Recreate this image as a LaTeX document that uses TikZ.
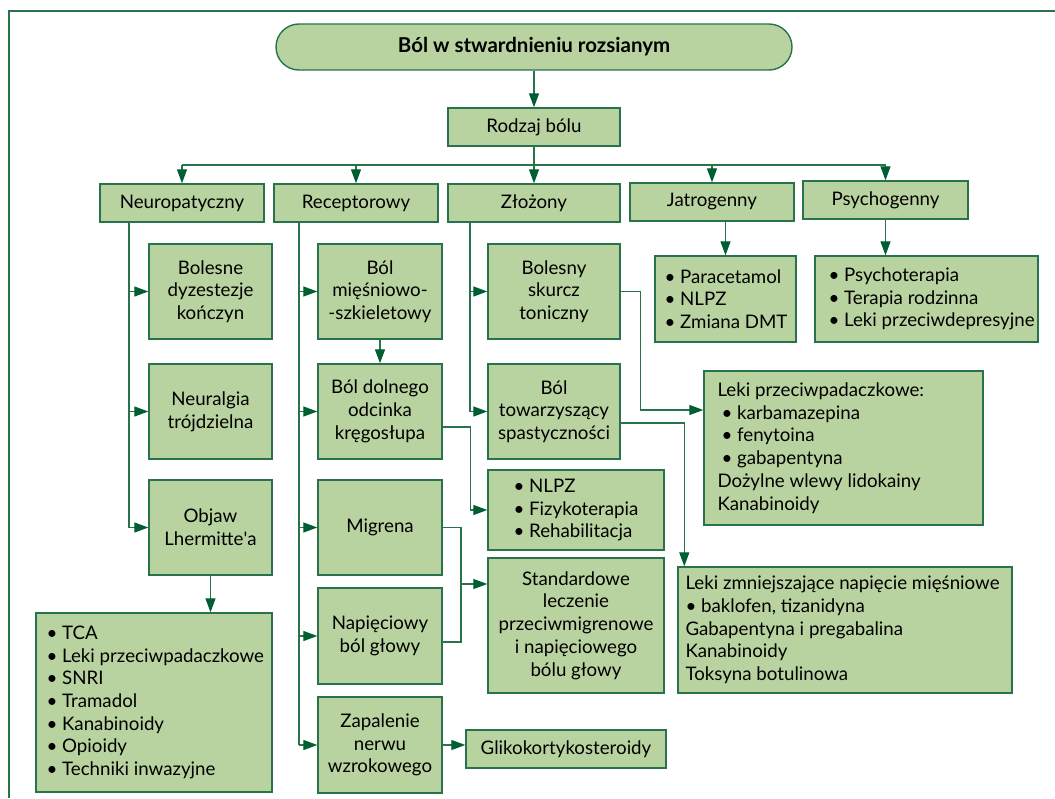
\documentclass[tikz,border=0pt]{standalone}
\usepackage{fontspec}
\setmainfont{Lato}
\usetikzlibrary{arrows.meta,calc}
\definecolor{bf}{RGB}{185,211,160}
\definecolor{bc}{RGB}{40,115,75}
\definecolor{ac}{RGB}{0,95,50}
\begin{document}
\begin{tikzpicture}[x=1pt,y=-1pt,
  box/.style={draw=bc, fill=bf, line width=1.4pt, inner sep=0pt, align=center,
    font=\fontsize{18.7}{22.7}\selectfont},
  txt/.style={inner sep=0pt, align=left, anchor=west, font=\fontsize{18.7}{22.7}\selectfont},
  conn/.style={draw=bc, line width=1.3pt},
  arr/.style={conn, -{Triangle[length=14pt,width=10pt,color=ac]}}]
\useasboundingbox (0,0) rectangle (1055,798);
\draw[conn] (9,798) -- (9,11) -- (1055,11);

% top
\node[box, minimum width=516pt, minimum height=46pt, rounded corners=23pt,
  font=\fontsize{20.5}{24}\selectfont\bfseries] (title) at (534,47) {Ból w stwardnieniu rozsianym};
\node[box, minimum width=172pt, minimum height=38pt] (rodzaj) at (534,127) {Rodzaj bólu};

% level 2
\node[box, minimum width=164pt, minimum height=38pt] (neuro) at (182,203) {Neuropatyczny};
\node[box, minimum width=164pt, minimum height=38pt] (recep) at (356,203) {Receptorowy};
\node[box, minimum width=172pt, minimum height=38pt] (zloz) at (534,203) {Złożony};
\node[box, minimum width=164pt, minimum height=38pt] (jat) at (712,202) {Jatrogenny};
\node[box, minimum width=165pt, minimum height=38pt] (psy) at (885.5,200) {Psychogenny};

% column 1
\node[box, minimum width=123pt, minimum height=95pt] (bolesne) at (210.5,291.5) {Bolesne\\dyzestezje\\kończyn};
\node[box, minimum width=123pt, minimum height=95pt] (neural) at (210.5,411.5) {Neuralgia\\trójdzielna};
\node[box, minimum width=123pt, minimum height=95pt] (objaw) at (210.5,527.5) {Objaw\\Lhermitte\textquotesingle a};
\node[box, minimum width=236pt, minimum height=179pt] (tca) at (154,702.5) {};
\node[txt] (tcat) at ($(tca.west)+(11,0)$) {• TCA\\• Leki przeciwpadaczkowe\\• SNRI\\• Tramadol\\• Kanabinoidy\\• Opioidy\\• Techniki inwazyjne};

% column 2
\node[box, minimum width=124pt, minimum height=95pt] (miesn) at (380,291.5) {Ból\\mięśniowo-\\-szkieletowy};
\node[box, minimum width=124pt, minimum height=95pt] (dolny) at (380,411.5) {Ból dolnego\\odcinka\\kręgosłupa};
\node[box, minimum width=124pt, minimum height=95pt] (migr) at (380,527.5) {Migrena};
\node[box, minimum width=124pt, minimum height=96pt] (napi) at (380,636) {Napięciowy\\ból głowy};
\node[box, minimum width=124pt, minimum height=96pt] (zap) at (380,745) {Zapalenie\\nerwu\\wzrokowego};

% column 3
\node[box, minimum width=132pt, minimum height=95pt] (skurcz) at (554,291.5) {Bolesny\\skurcz\\toniczny};
\node[box, minimum width=132pt, minimum height=95pt] (tow) at (554,411.5) {Ból\\towarzyszący\\spastyczności};
\node[box, minimum width=176pt, minimum height=80pt] (nlpz) at (576,510) {};
\node[txt] (nlpzt) at ($(nlpz.west)+(26,0)$) {• NLPZ\\• Fizykoterapia\\• Rehabilitacja};
\node[box, minimum width=176pt, minimum height=135pt] (std) at (576,625.5) {Standardowe\\leczenie\\przeciwmigrenowe\\i napięciowego\\bólu głowy};
\node[box, minimum width=200pt, minimum height=38pt] (gliko) at (566,749) {Glikokortykosteroidy};

% right side
\node[box, minimum width=141pt, minimum height=86pt] (jlist) at (725.5,299) {};
\node[txt] (jlistt) at ($(jlist.west)+(10,0)$) {• Paracetamol\\• NLPZ\\• Zmiana DMT};
\node[box, minimum width=223pt, minimum height=86pt] (plist) at (926.5,299) {};
\node[txt] (plistt) at ($(plist.west)+(14,0)$) {• Psychoterapia\\• Terapia rodzinna\\• Leki przeciwdepresyjne};
\node[box, minimum width=279pt, minimum height=154pt] (lekip) at (843.5,448) {};
\node[txt] (lekipt) at ($(lekip.west)+(14,0)$) {Leki przeciwpadaczkowe:\\\hspace{4pt}• karbamazepina\\\hspace{4pt}• fenytoina\\\hspace{4pt}• gabapentyna\\Dożylne wlewy lidokainy\\Kanabinoidy};
\node[box, minimum width=334pt, minimum height=126pt] (lekiz) at (845,630) {};
\node[txt] (lekizt) at ($(lekiz.west)+(8,0)$) {Leki zmniejszające napięcie mięśniowe\\• baklofen, tizanidyna\\Gabapentyna i pregabalina\\Kanabinoidy\\Toksyna botulinowa};

% connectors top
\coordinate (bus) at (534,165);
\draw[arr] (title.south) -- (rodzaj.north);
\draw[conn] (rodzaj.south) -- (bus);
\draw[conn] (neuro.north |- bus) -- (psy.north |- bus);
\draw[arr] (neuro.north |- bus) -- (neuro.north);
\draw[arr] (recep.north |- bus) -- (recep.north);
\draw[arr] (bus) -- (zloz.north);
\draw[arr] (jat.north |- bus) -- (jat.north);
\draw[arr] (psy.north |- bus) -- (psy.north);

% neuropatyczny branch
\coordinate (nv) at (129,222);
\draw[conn] (nv) -- (nv |- objaw.west);
\draw[arr] (nv |- bolesne.west) -- (bolesne.west);
\draw[arr] (nv |- neural.west) -- (neural.west);
\draw[arr] (nv |- objaw.west) -- (objaw.west);
\draw[arr] (objaw.south) -- (objaw.south |- tca.north);

% receptorowy branch
\coordinate (rv) at (299,222);
\draw[conn] (rv) -- (rv |- zap.west);
\draw[arr] (rv |- miesn.west) -- (miesn.west);
\draw[arr] (rv |- dolny.west) -- (dolny.west);
\draw[arr] (rv |- migr.west) -- (migr.west);
\draw[arr] (rv |- napi.west) -- (napi.west);
\draw[arr] (rv |- zap.west) -- (zap.west);
\draw[arr] (miesn.south) -- (dolny.north);
\draw[arr] ($(dolny.east)+(0,15.5)$) -- ++(28,0) |- (nlpz.west);
\coordinate (mj) at (461,584);
\draw[conn] (migr.east) -- (migr.east -| mj) |- ($(napi.east)+(0,6)$);
\draw[arr] (mj) -- (mj -| std.west);
\draw[arr] (zap.east) -- (zap.east -| gliko.west);

% zlozony branch
\coordinate (zv) at (470,222);
\draw[conn] (zv) -- (zv |- tow.west);
\draw[arr] (zv |- skurcz.west) -- (skurcz.west);
\draw[arr] (zv |- tow.west) -- (tow.west);
\draw[arr] (skurcz.east) -- ++(20,0) |- ($(lekip.west)+(0,-38)$);
\draw[arr] ($(tow.east)+(0,11.5)$) -| ($(lekiz.north west)+(7,0)$);

% jatrogenny / psychogenny
\draw[arr] (jat.south -| jlist.north) -- (jlist.north);
\draw[arr] (psy.south) -- (psy.south |- plist.north);
\end{tikzpicture}
\end{document}
